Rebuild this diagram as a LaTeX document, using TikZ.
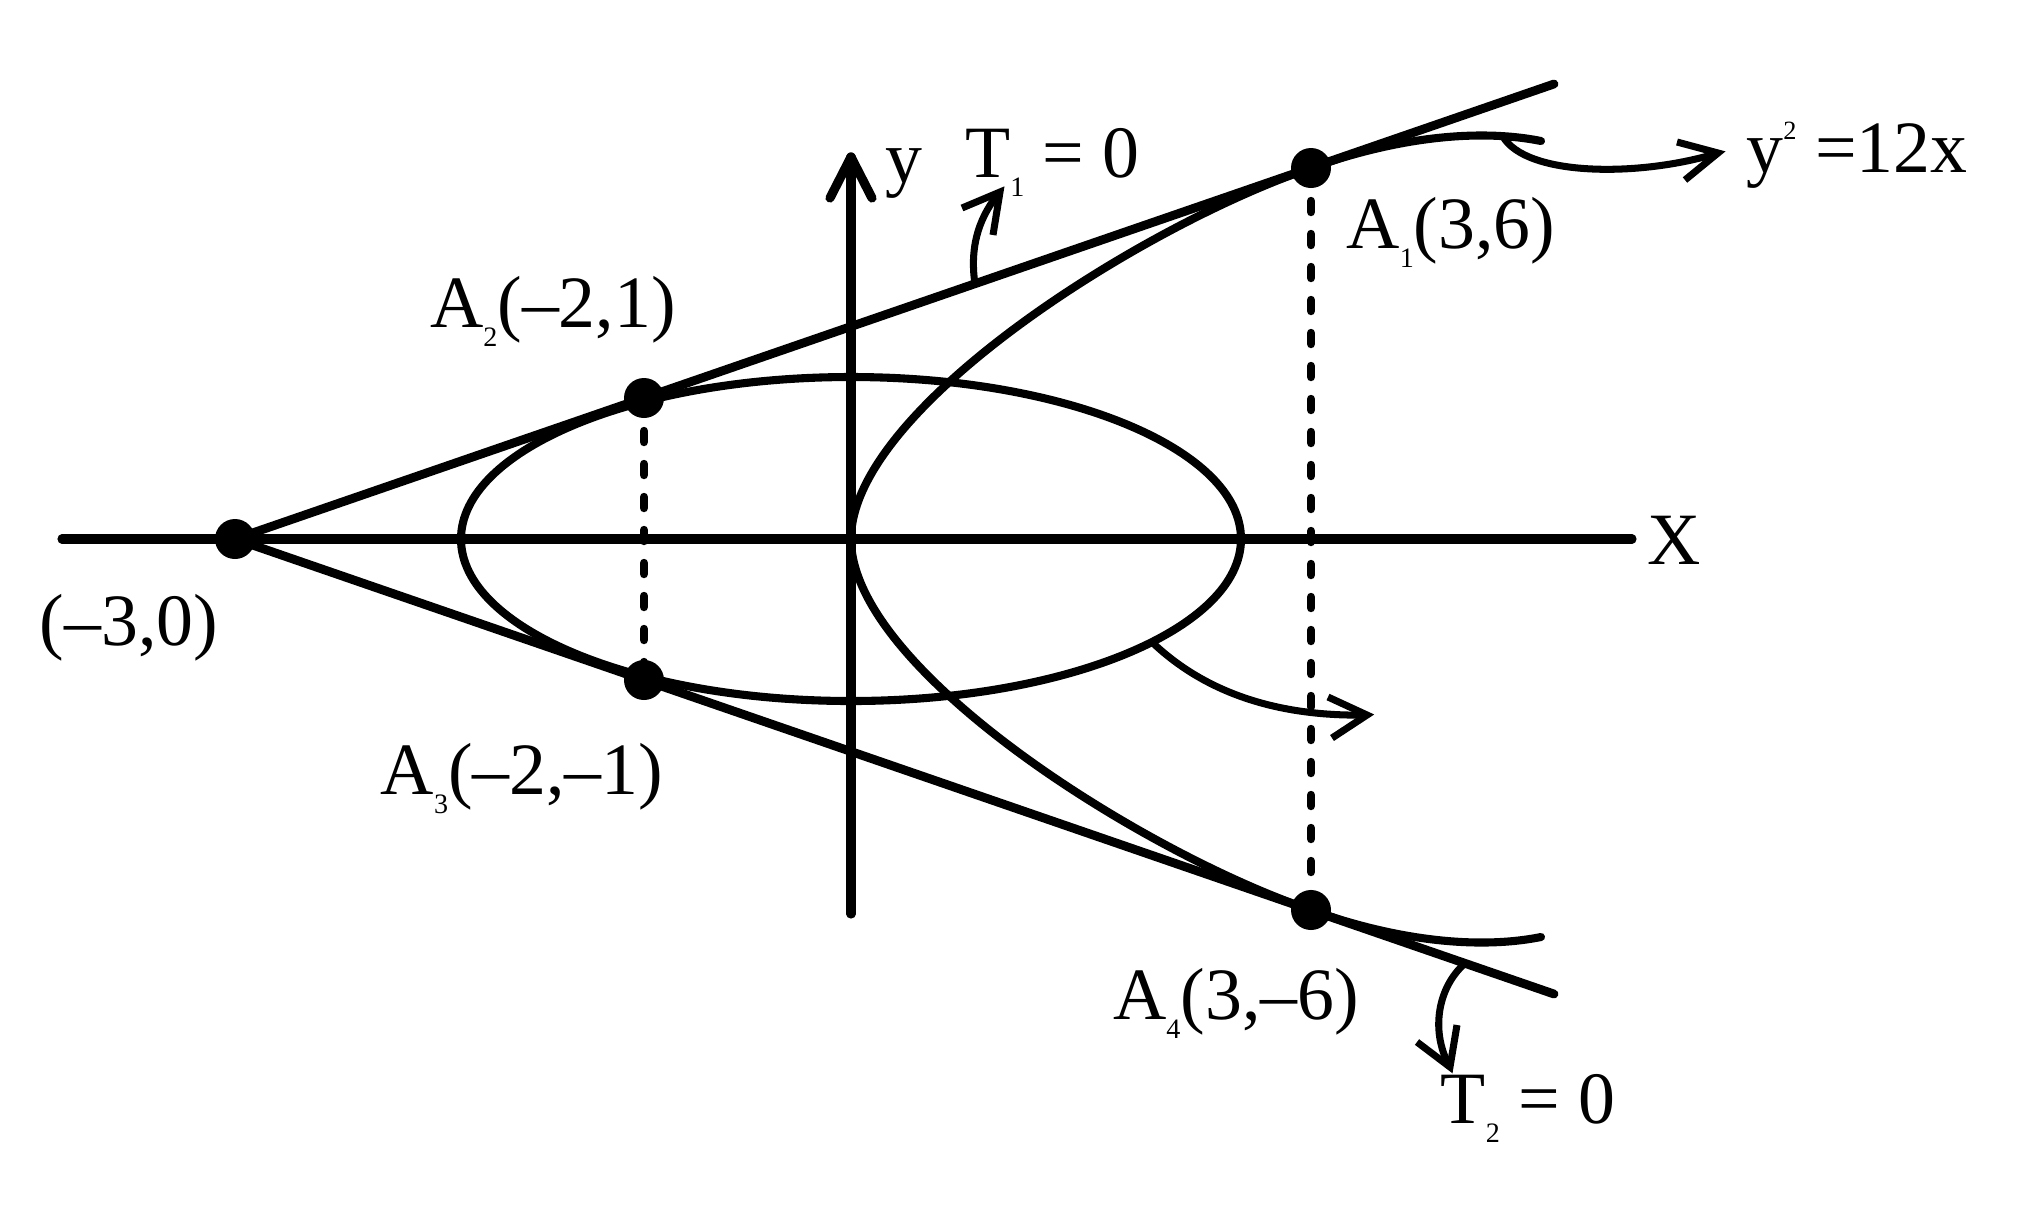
\documentclass[tikz,border=0pt]{standalone}
\usepackage{fontspec}
\setmainfont{Liberation Serif}
\newcommand{\lowidx}[1]{\raisebox{-5.5pt}{\fontsize{8}{8}\selectfont #1}}
\newcommand{\highidx}[1]{\raisebox{9.5pt}{\fontsize{7.5}{8}\selectfont #1}}
\begin{document}
\begin{tikzpicture}[
    line cap=round,
    axis/.style={line width=2.6pt},
    curve/.style={line width=2.3pt},
    tangent/.style={line width=2.5pt},
    proj/.style={line width=2.4pt, dash pattern=on 1.1mm off 2.2mm},
    pointer/.style={line width=2pt, line cap=butt},
    lbl/.style={inner sep=0pt, anchor=base, font=\fontsize{21}{25}\selectfont}
  ]
  \useasboundingbox (-8.51,-6.78) rectangle (11.76,5.39);
  % Punkte
  \coordinate (O) at (0,0);
  \coordinate (P) at (-6.16,0);
  \coordinate (A1) at (4.6,3.71);
  \coordinate (A2) at (-2.07,1.41);
  \coordinate (A3) at (-2.07,-1.41);
  \coordinate (A4) at (4.6,-3.71);
  \coordinate (T1end) at (7.03,4.55);
  \coordinate (T2end) at (7.03,-4.55);
  % Koordinatensystem
  \coordinate (xL) at (-7.89,0);
  \coordinate (xR) at (7.81,0);
  \coordinate (yB) at (0,-3.75);
  \coordinate (yT) at (0,3.82);
  \draw[axis] (xL) -- (xR);
  \draw[axis] (yB) -- (yT);
  \draw[axis] (yT) -- ++(-0.21,-0.41);
  \draw[axis] (yT) -- ++(0.21,-0.41);
  % Ellipse
  \draw[curve] (O) ellipse (3.9 and 1.62);
  \coordinate (ellfoot) at (-39.5:3.9 and 1.62);
  % Parabel
  \coordinate (parTop) at (6.9,3.98);
  \coordinate (parBot) at (6.9,-3.98);
  \draw[curve] (parBot) .. controls (6.3,-4.1) and (5.5,-4.03) .. (A4)
    .. controls (2.9,-3.13) and (0,-1.3) .. (O)
    .. controls (0,1.3) and (2.9,3.13) .. (A1)
    .. controls (5.5,4.03) and (6.3,4.1) .. coordinate[pos=0.8] (parab) (parTop);
  % Tangenten
  \draw[tangent] (P) -- coordinate[pos=0.561] (t1foot) (T1end);
  \draw[tangent] (P) -- coordinate[pos=0.9325] (t2foot) (T2end);
  % Lote
  \draw[proj] (A2) -- (A3);
  \draw[proj] (A1) -- (A4);
  \foreach \p in {P,A1,A2,A3,A4}
    \fill (\p) circle (2mm);
  % Pfeile
  \coordinate (t1tip) at (1.49,3.47);
  \coordinate (ytip) at (8.67,3.86);
  \coordinate (etip) at (5.16,-1.76);
  \coordinate (t2tip) at (5.99,-5.28);
  \draw[pointer] (t1foot) .. controls (1.18,2.95) and (1.30,3.25) .. (t1tip);
  \draw[pointer] (t1tip) ++(-0.38,-0.16) -- (t1tip) -- ++(-0.07,-0.43);
  \draw[pointer] (parab) .. controls (6.75,3.62) and (7.9,3.62) .. (ytip);
  \draw[pointer] (ytip) ++(-0.41,0.11) -- (ytip) -- ++(-0.33,-0.27);
  \draw[pointer] (ellfoot) .. controls (3.5,-1.5) and (4.2,-1.78) .. (etip);
  \draw[pointer] (etip) ++(-0.39,0.18) -- (etip) -- ++(-0.35,-0.23);
  \draw[pointer] (t2foot) .. controls (5.85,-4.5) and (5.8,-4.95) .. (t2tip);
  \draw[pointer] (t2tip) ++(-0.33,0.25) -- (t2tip) -- ++(0.07,0.42);
  % Beschriftung
  \node[lbl] (lblP) at (-7.22,-1.06) {(–3,0)};
  \node[lbl] (lblA1) at (6.0,2.91) {A\lowidx{1}(3,6)};
  \node[lbl] (lblA2) at (-2.98,2.115) {A\lowidx{2}(–2,1)};
  \node[lbl] (lblA3) at (-3.29,-2.55) {A\lowidx{3}(–2,–1)};
  \node[lbl] (lblA4) at (3.85,-4.80) {A\lowidx{4}(3,–6)};
  \node[lbl] (lblT1) at (2.015,3.62) {T\lowidx{1} = 0};
  \node[lbl] (lblT2) at (6.77,-5.84) {T\lowidx{2} = 0};
  \node[lbl] (lblPar) at (10.06,3.665) {y\highidx{2} =12x};
  \node[lbl] (lblX) at (8.23,-0.25) {X};
  \node[lbl] (lbly) at (0.53,3.57) {y};
\end{tikzpicture}
\end{document}
